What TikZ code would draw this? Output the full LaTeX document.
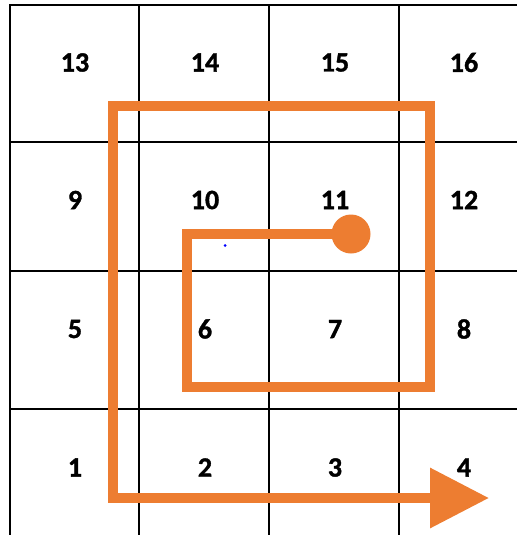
\documentclass[tikz,border=0pt]{standalone}
\usepackage{fontspec}
\setmainfont{Carlito}
\newcommand{\cellfont}{\fontsize{28}{30}\selectfont\bfseries\addfontfeature{FakeBold=1.2}}
\usetikzlibrary{arrows.meta}
\definecolor{spiralorange}{RGB}{237,125,49}

\begin{document}
\begin{tikzpicture}[
  x=1pt, y=-1pt,
  every node/.style={font=\cellfont},
  grid/.style={draw=black, line width=1.1pt},
  num/.style={inner sep=0pt},
  spiral/.style={draw=spiralorange, line width=10pt, line join=miter},
  dotstart/.style={circle, fill=spiralorange, minimum size=39pt, inner sep=0pt}
]
\useasboundingbox (0,0) rectangle (517,535);
% grid
\draw[grid] (10,535) -- (10,5) -- (517,5);
\draw[grid] (139,5) -- (139,535);
\draw[grid] (269,5) -- (269,535);
\draw[grid] (399,5) -- (399,535);
\draw[grid] (10,142) -- (517,142);
\draw[grid] (10,271) -- (517,271);
\draw[grid] (10,409) -- (517,409);
% cell numbers
\node[num] (c13) at (75,62.5) {13};
\node[num] (c14) at (205,62.5) {14};
\node[num] (c15) at (335,62.5) {15};
\node[num] (c16) at (464,62.5) {16};
\node[num] (c9) at (75,200) {9};
\node[num] (c10) at (205,200) {10};
\node[num] (c11) at (335,200) {11};
\node[num] (c12) at (464,200) {12};
\node[num] (c5) at (75,329) {5};
\node[num] (c6) at (205,329) {6};
\node[num] (c7) at (335,329) {7};
\node[num] (c8) at (464,329) {8};
\node[num] (c1) at (75,467.5) {1};
\node[num] (c2) at (205,467.5) {2};
\node[num] (c3) at (335,467.5) {3};
\node[num] (c4) at (464,467.5) {4};
% spiral
\node[dotstart] (start) at (351,234) {};
\coordinate (finish) at (489,498);
\draw[spiral, -{Triangle[length=59pt, width=58pt]}] (start.center) -- (187,234) -- (187,387)
  -- (430,387) -- (430,106) -- (113,106) -- (113,498) -- (finish);
\fill[blue] (225,245.5) circle (1.5pt);
\end{tikzpicture}
\end{document}
